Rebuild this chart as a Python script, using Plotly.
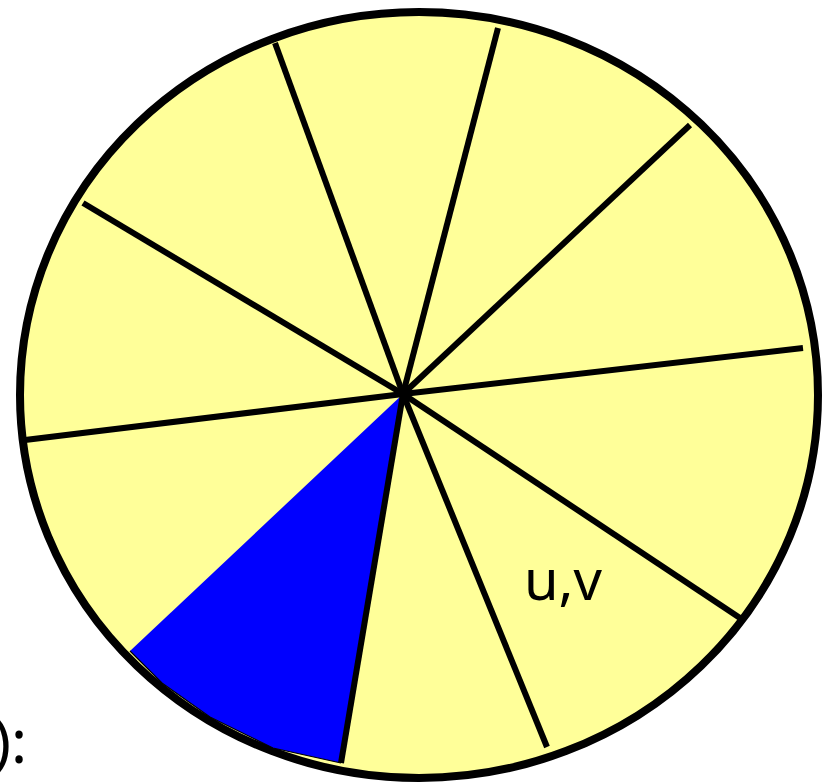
import plotly.graph_objects as go

# Hub of the spokes (pixel-like coordinates, y grows downward)
center_x = 403
center_y = 394

# End points of the black spokes
spoke_end_x = [275, 498, 690, 803, 740, 547, 341, 25, 83]
spoke_end_y = [43, 28, 125, 348, 618, 747, 763, 440, 203]

# Blue highlighted slice (polygon, starting from the hub)
blue_x = [403, 130, 162, 210, 273, 341, 403]
blue_y = [394, 651, 683, 717, 748, 763, 394]

# Outer ellipse bounding box
ell_x0, ell_x1 = 20, 818
ell_y0, ell_y1 = 12, 778

label_text = "u,v"
label_x, label_y = 563, 578
corner_text = "):"

YELLOW = "#FFFF99"
BLUE = "#0000FF"

fig = go.Figure()

# blue slice fill
fig.add_trace(go.Scatter(x=blue_x, y=blue_y, mode="lines", fill="toself",
                         fillcolor=BLUE, line=dict(width=0, color=BLUE),
                         hoverinfo="skip", showlegend=False))
# thin outline along the outer edge of the blue slice
fig.add_trace(go.Scatter(x=blue_x[1:-1], y=blue_y[1:-1], mode="lines",
                         line=dict(width=1.2, color="black"),
                         hoverinfo="skip", showlegend=False))

# spokes
for ex, ey in zip(spoke_end_x, spoke_end_y):
    fig.add_trace(go.Scatter(x=[center_x, ex], y=[center_y, ey], mode="lines",
                             line=dict(width=6, color="black"),
                             hoverinfo="skip", showlegend=False))

# outer ellipse
fig.add_shape(type="circle", xref="x", yref="y",
              x0=ell_x0, x1=ell_x1, y0=ell_y0, y1=ell_y1,
              fillcolor=YELLOW, line=dict(color="black", width=8), layer="below")

fig.add_annotation(x=label_x, y=label_y, text=label_text, showarrow=False,
                   font=dict(family="Noto Sans", size=56, color="black"),
                   xanchor="center", yanchor="middle")
fig.add_annotation(x=29, y=740, text=corner_text, showarrow=False,
                   font=dict(family="Noto Sans", size=60, color="black"),
                   xanchor="right", yanchor="middle")

fig.update_layout(
    width=822, height=783,
    margin=dict(l=0, r=0, t=0, b=0),
    paper_bgcolor="white", plot_bgcolor="white",
    xaxis=dict(range=[0, 822], visible=False, fixedrange=True),
    yaxis=dict(range=[783, 0], visible=False, fixedrange=True),
    showlegend=False,
)

fig.write_html(
    "out.html",
    config={"displayModeBar": False},
    post_script="document.body.style.margin='0';document.body.style.overflow='hidden';",
)
